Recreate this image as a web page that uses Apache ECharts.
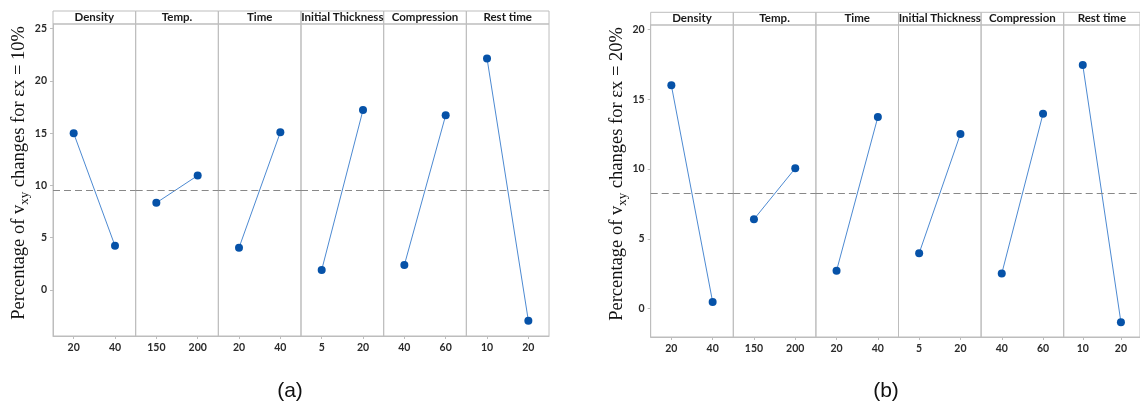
<!DOCTYPE html>
<html>
<head>
<meta charset="utf-8">
<script src="https://cdn.jsdelivr.net/npm/echarts@6/dist/echarts.min.js"></script>
<style>html,body{margin:0;padding:0;background:#fff}#c{width:1140px;height:407px}</style>
</head>
<body>
<div id="c"></div>
<script>
// ---- data ----
const factors = ['Density', 'Temp.', 'Time', 'Initial Thickness', 'Compression', 'Rest time'];
const levels = [['20', '40'], ['150', '200'], ['20', '40'], ['5', '20'], ['40', '60'], ['10', '20']];
const valuesA = [[15.0, 4.23], [8.34, 10.95], [4.04, 15.09], [1.91, 17.22], [2.39, 16.72], [22.16, -2.93]];
const valuesB = [[15.99, 0.48], [6.40, 10.05], [2.72, 13.72], [3.97, 12.51], [2.51, 13.96], [17.44, -0.97]];
const yTicksA = [0, 5, 10, 15, 20, 25];
const yTicksB = [0, 5, 10, 15, 20];
const rangeA = [-4.4, 25.45];
const rangeB = [-2.03, 20.31];
const panelLabels = ['(a)', '(b)'];
const yTitles = ['10%', '20%'];

// ---- layout ----
const panels = [
  { left: 53, top: 11, headH: 13, bottom: 336, w: 82.67, values: valuesA, ticks: yTicksA, range: rangeA, title: yTitles[0], label: panelLabels[0], lx: 285 },
  { left: 650.7, top: 12.3, headH: 12.7, bottom: 337, w: 82.6, values: valuesB, ticks: yTicksB, range: rangeB, title: yTitles[1], label: panelLabels[1], lx: 881 }
];

const border = '#bdbdbd';
const grid = [], xAxis = [], yAxis = [], series = [], title = [];

panels.forEach((p, pi) => {
  const all = p.values.flat();
  const mean = all.reduce((a, b) => a + b, 0) / all.length;
  for (let i = 0; i < factors.length; i++) {
    const left = p.left + i * p.w;
    // header grid
    const hg = grid.length;
    grid.push({ left: left, top: p.top, width: p.w, height: p.headH, show: true, borderColor: border, borderWidth: 1, backgroundColor: 'transparent', containLabel: false });
    xAxis.push({ gridIndex: hg, type: 'category', data: [factors[i]], position: 'bottom',
      axisLine: { show: false, onZero: false }, axisTick: { show: false },
      axisLabel: { inside: true, margin: 1, fontFamily: 'Lato', fontWeight: 'bold', fontSize: 11.5, color: '#1a1a1a' } });
    yAxis.push({ gridIndex: hg, type: 'value', show: false, min: 0, max: 1 });
    // plot grid
    const pg = grid.length;
    const ptop = p.top + p.headH;
    grid.push({ left: left, top: ptop, width: p.w, height: p.bottom - ptop, show: true, borderColor: border, borderWidth: 1, backgroundColor: 'transparent' });
    xAxis.push({ gridIndex: pg, type: 'category', data: levels[i], boundaryGap: true, position: 'bottom',
      axisLine: { show: true, onZero: false, lineStyle: { color: border } },
      axisTick: { show: true, alignWithLabel: true, length: 3, lineStyle: { color: border } },
      axisLabel: { margin: 6, fontFamily: 'Lato', fontWeight: 'bold', fontSize: 10.5, color: '#2a2a2a' } });
    const yA = { gridIndex: pg, type: 'value', min: p.range[0], max: p.range[1], splitLine: { show: false },
      axisLine: { show: i === 0, onZero: false, lineStyle: { color: border } } };
    if (i === 0) {
      Object.assign(yA, {
        axisTick: { show: true, length: 3, customValues: p.ticks, lineStyle: { color: border } },
        axisLabel: { show: true, margin: 6, customValues: p.ticks, fontFamily: 'Lato', fontWeight: 'bold', fontSize: 10.5, color: '#2a2a2a' },
        name: '{t|Percentage of v}{s|xy}{t| changes for εx = ' + p.title + '}',
        nameLocation: 'middle', nameRotate: 90, nameGap: 20,
        nameTextStyle: { padding: [0, 0, 0, 14], rich: {
          t: { fontFamily: 'Liberation Serif', fontSize: 18.5, color: '#111' },
          s: { fontFamily: 'Liberation Serif', fontSize: 13, color: '#111', padding: [10, 0, 0, 0] } } }
      });
    } else {
      Object.assign(yA, { axisTick: { show: false }, axisLabel: { show: false } });
    }
    yAxis.push(yA);
    series.push({
      type: 'line', xAxisIndex: pg, yAxisIndex: pg, data: p.values[i],
      symbol: 'circle', symbolSize: 8, silent: true, animation: false,
      itemStyle: { color: '#0652a8' },
      lineStyle: { color: '#4d8ad2', width: 1 },
      markLine: { silent: true, symbol: 'none', animation: false, label: { show: false },
        lineStyle: { color: '#888', type: [7, 4], width: 1.2 },
        data: [{ yAxis: mean }] }
    });
  }
  title.push({ text: p.label, left: p.lx, top: 376, textAlign: 'center',
    textStyle: { fontFamily: 'Liberation Sans', fontWeight: 'normal', fontSize: 21, color: '#111' } });
});

const chart = echarts.init(document.getElementById('c'), null, { renderer: 'canvas' });
chart.setOption({ animation: false, backgroundColor: '#fff', title, grid, xAxis, yAxis, series });
</script>
</body>
</html>
